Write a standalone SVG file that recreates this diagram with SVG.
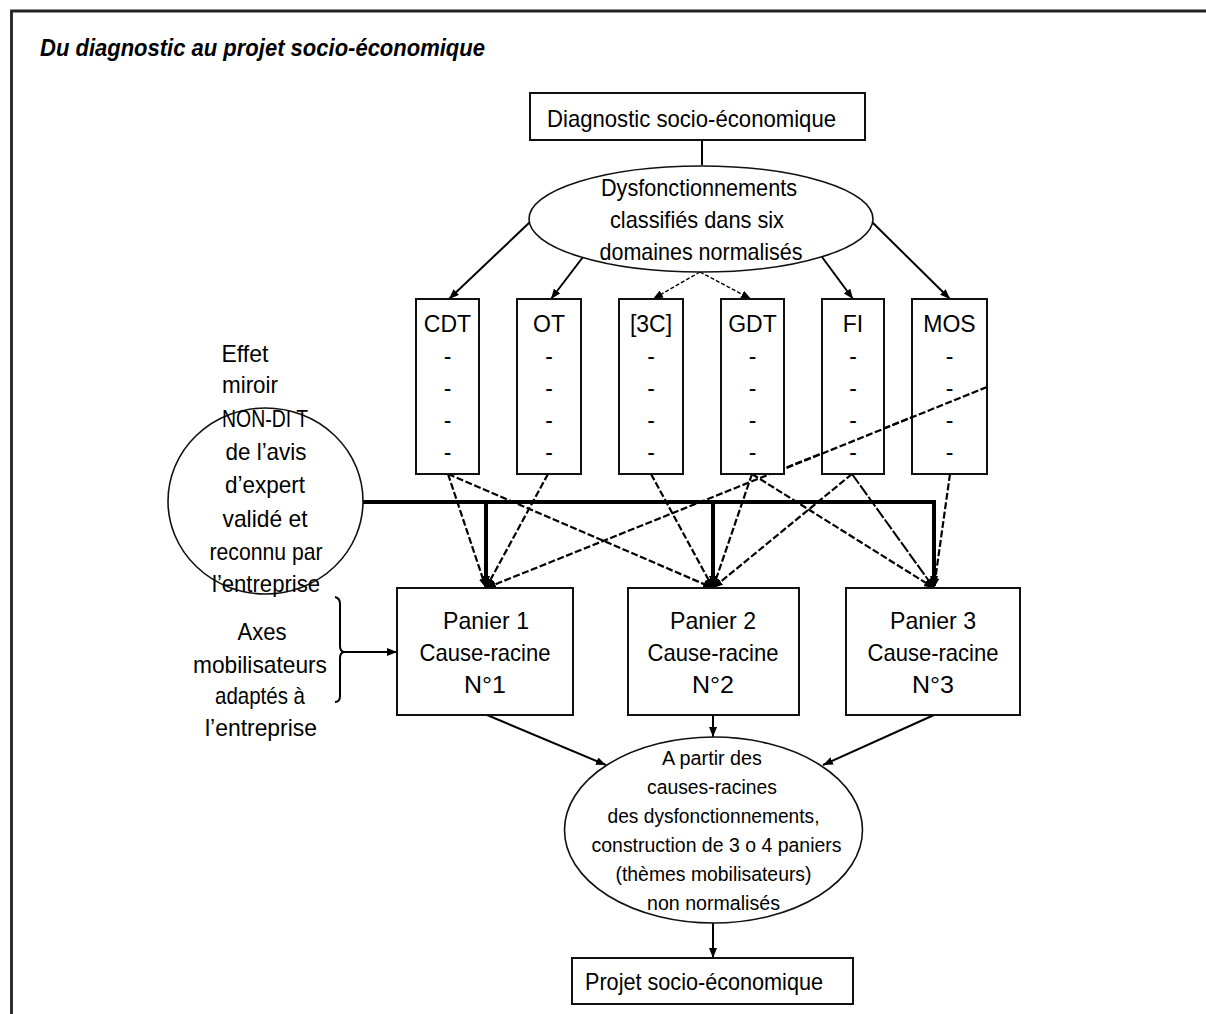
<svg xmlns="http://www.w3.org/2000/svg" width="1206" height="1014" viewBox="0 0 1206 1014">
  <style>
    text { font-family: "Liberation Sans", Arial, sans-serif; fill: #000; }
    .t { font-size: 24px; text-anchor: middle; }
    .s { font-size: 20.5px; text-anchor: middle; }
    .lbl { font-size: 23px; text-anchor: middle; }
    .box { fill: #fff; stroke: #111; stroke-width: 2; }
    .ell { fill: #fff; stroke: #111; stroke-width: 1.6; }
    .ln { fill: none; stroke: #000; stroke-width: 2; }
    .dash { fill: none; stroke: #000; stroke-width: 2.2; stroke-dasharray: 7 2.5; }
    .fine { fill: none; stroke: #000; stroke-width: 1.4; stroke-dasharray: 4 2; }
    .thick { fill: none; stroke: #000; stroke-width: 4; }
  </style>
  <defs>
    <marker id="ah" markerUnits="userSpaceOnUse" markerWidth="10" markerHeight="8" refX="10" refY="4" orient="auto">
      <path d="M0,0 L10,4 L0,8 z" fill="#000"/>
    </marker>
  </defs>

  <!-- outer frame (only left and top edges fall inside the page) -->
  <path d="M11.5,1014 V11 H1206" fill="none" stroke="#222" stroke-width="2.8"/>

  <!-- title -->
  <text x="40" y="56" font-size="24" font-weight="bold" font-style="italic" textLength="445" lengthAdjust="spacingAndGlyphs">Du diagnostic au projet socio-économique</text>

  <!-- connectors -->
  <g id="connectors">
    <line class="ln" x1="702" y1="140" x2="702" y2="165"/>
    <line class="ln" x1="530" y1="222" x2="449" y2="299" marker-end="url(#ah)"/>
    <line class="ln" x1="583" y1="257" x2="551" y2="299" stroke-width="2.6" marker-end="url(#ah)"/>
    <line class="fine" x1="700" y1="272" x2="653" y2="299" marker-end="url(#ah)"/>
    <line class="fine" x1="700" y1="272" x2="751" y2="299" marker-end="url(#ah)"/>
    <line class="ln" x1="822" y1="257" x2="853" y2="299" marker-end="url(#ah)"/>
    <line class="ln" x1="872" y1="222" x2="950" y2="299" marker-end="url(#ah)"/>

    <!-- domains to baskets -->
    <line class="dash" x1="448" y1="474" x2="486" y2="588" marker-end="url(#ah)"/>
    <line class="dash" x1="448" y1="474" x2="713" y2="588" marker-end="url(#ah)"/>
    <line class="dash" x1="548" y1="474" x2="486" y2="588" marker-end="url(#ah)"/>
    <line class="dash" x1="651" y1="474" x2="713" y2="588" marker-end="url(#ah)"/>
    <line class="dash" x1="987" y1="387" x2="486" y2="588" marker-end="url(#ah)"/>
    <line class="dash" x1="752" y1="474" x2="713" y2="588" marker-end="url(#ah)"/>
    <line class="dash" x1="752" y1="474" x2="934" y2="588" marker-end="url(#ah)"/>
    <line class="dash" x1="852" y1="474" x2="713" y2="588" marker-end="url(#ah)"/>
    <line class="ln" x1="852" y1="474" x2="934" y2="588" stroke-dasharray="12 2" marker-end="url(#ah)"/>
    <line class="dash" x1="950" y1="474" x2="934" y2="588" marker-end="url(#ah)"/>

    <!-- mirror effect bar -->
    <path class="thick" d="M363,502 H934 V586" marker-end="url(#ah)"/>
    <line class="thick" x1="486" y1="502" x2="486" y2="586" marker-end="url(#ah)"/>
    <line class="thick" x1="713" y1="502" x2="713" y2="586" marker-end="url(#ah)"/>

    <!-- axes bracket -->
    <path class="ln" stroke-width="1.6" d="M335,597 Q340,598 340,604 V646 Q340,652 345,652 Q340,652 340,658 V696 Q340,702 335,702"/>
    <line class="ln" stroke-width="1.6" x1="345" y1="652" x2="397" y2="652" marker-end="url(#ah)"/>

    <!-- baskets to synthesis -->
    <line class="ln" x1="487" y1="715" x2="606" y2="765" marker-end="url(#ah)"/>
    <line class="ln" x1="713" y1="715" x2="713" y2="737" stroke-width="2.6" marker-end="url(#ah)"/>
    <line class="ln" x1="934" y1="715" x2="823" y2="765" marker-end="url(#ah)"/>
    <line class="ln" x1="713" y1="923" x2="713" y2="958" stroke-width="2.6" marker-end="url(#ah)"/>
  </g>

  <g id="diagnostic">
    <rect class="box" x="530" y="93" width="335" height="47"/>
    <text class="t" x="691.5" y="127" textLength="289" lengthAdjust="spacingAndGlyphs">Diagnostic socio-économique</text>
  </g>

  <g id="dysfonctionnements">
    <ellipse class="ell" cx="701" cy="219" rx="172" ry="53"/>
    <text class="t" x="699" y="196" textLength="196" lengthAdjust="spacingAndGlyphs">Dysfonctionnements</text>
    <text class="t" x="697" y="228" textLength="174" lengthAdjust="spacingAndGlyphs">classifiés dans six</text>
    <text class="t" x="701" y="260" textLength="203" lengthAdjust="spacingAndGlyphs">domaines normalisés</text>
  </g>

  <g id="domain-cdt">
    <rect class="box" x="416" y="299" width="63" height="175"/>
    <text class="lbl" x="447.5" y="332">CDT</text>
    <text class="lbl" x="447.5" y="364">-</text><text class="lbl" x="447.5" y="396">-</text><text class="lbl" x="447.5" y="428">-</text><text class="lbl" x="447.5" y="460">-</text>
  </g>
  <g id="domain-ot">
    <rect class="box" x="517" y="299" width="64" height="175"/>
    <text class="lbl" x="549" y="332">OT</text>
    <text class="lbl" x="549" y="364">-</text><text class="lbl" x="549" y="396">-</text><text class="lbl" x="549" y="428">-</text><text class="lbl" x="549" y="460">-</text>
  </g>
  <g id="domain-3c">
    <rect class="box" x="619" y="299" width="64" height="175"/>
    <text class="lbl" x="651" y="332">[3C]</text>
    <text class="lbl" x="651" y="364">-</text><text class="lbl" x="651" y="396">-</text><text class="lbl" x="651" y="428">-</text><text class="lbl" x="651" y="460">-</text>
  </g>
  <g id="domain-gdt">
    <rect class="box" x="721" y="299" width="63" height="175"/>
    <text class="lbl" x="752.5" y="332">GDT</text>
    <text class="lbl" x="752.5" y="364">-</text><text class="lbl" x="752.5" y="396">-</text><text class="lbl" x="752.5" y="428">-</text><text class="lbl" x="752.5" y="460">-</text>
  </g>
  <g id="domain-fi">
    <rect class="box" x="822" y="299" width="62" height="175"/>
    <text class="lbl" x="853" y="332">FI</text>
    <text class="lbl" x="853" y="364">-</text><text class="lbl" x="853" y="396">-</text><text class="lbl" x="853" y="428">-</text><text class="lbl" x="853" y="460">-</text>
  </g>
  <g id="domain-mos">
    <rect class="box" x="912" y="299" width="75" height="175"/>
    <text class="lbl" x="949.5" y="332">MOS</text>
    <text class="lbl" x="949.5" y="364">-</text><text class="lbl" x="949.5" y="396">-</text><text class="lbl" x="949.5" y="428">-</text><text class="lbl" x="949.5" y="460">-</text>
  </g>
  <!-- the long link from MOS is drawn over the boxes -->
  <line class="dash" x1="987" y1="387" x2="784" y2="469"/>

  <g id="effet-miroir">
    <text class="t" x="245" y="362" textLength="47" lengthAdjust="spacingAndGlyphs">Effet</text>
    <text class="t" x="250" y="393" textLength="56" lengthAdjust="spacingAndGlyphs">miroir</text>
  </g>

  <g id="non-dit">
    <ellipse class="ell" cx="265.5" cy="501" rx="97.5" ry="93" fill="none"/>
    <text class="t" x="265" y="427" textLength="86" lengthAdjust="spacingAndGlyphs">NON-DI T</text>
    <text class="t" x="266" y="460" textLength="81" lengthAdjust="spacingAndGlyphs">de l’avis</text>
    <text class="t" x="265" y="493" textLength="80" lengthAdjust="spacingAndGlyphs">d’expert</text>
    <text class="t" x="265" y="527" textLength="85" lengthAdjust="spacingAndGlyphs">validé et</text>
    <text class="t" x="266" y="560" textLength="113" lengthAdjust="spacingAndGlyphs">reconnu par</text>
    <text class="t" x="266" y="592" textLength="108" lengthAdjust="spacingAndGlyphs">l’entreprise</text>
  </g>

  <g id="axes">
    <text class="t" x="262" y="640" textLength="49" lengthAdjust="spacingAndGlyphs">Axes</text>
    <text class="t" x="260" y="673" textLength="134" lengthAdjust="spacingAndGlyphs">mobilisateurs</text>
    <text class="t" x="260" y="704" textLength="90" lengthAdjust="spacingAndGlyphs">adaptés à</text>
    <text class="t" x="261" y="736" textLength="112" lengthAdjust="spacingAndGlyphs">l’entreprise</text>
  </g>

  <g id="panier-1">
    <rect class="box" x="397" y="588" width="176" height="127"/>
    <text class="t" x="486" y="629" textLength="86" lengthAdjust="spacingAndGlyphs">Panier 1</text>
    <text class="t" x="485" y="661" textLength="131" lengthAdjust="spacingAndGlyphs">Cause-racine</text>
    <text class="t" x="485" y="693" textLength="42" lengthAdjust="spacingAndGlyphs">N°1</text>
  </g>
  <g id="panier-2">
    <rect class="box" x="628" y="588" width="171" height="127"/>
    <text class="t" x="713" y="629" textLength="86" lengthAdjust="spacingAndGlyphs">Panier 2</text>
    <text class="t" x="713" y="661" textLength="131" lengthAdjust="spacingAndGlyphs">Cause-racine</text>
    <text class="t" x="713" y="693" textLength="42" lengthAdjust="spacingAndGlyphs">N°2</text>
  </g>
  <g id="panier-3">
    <rect class="box" x="846" y="588" width="174" height="127"/>
    <text class="t" x="933" y="629" textLength="86" lengthAdjust="spacingAndGlyphs">Panier 3</text>
    <text class="t" x="933" y="661" textLength="131" lengthAdjust="spacingAndGlyphs">Cause-racine</text>
    <text class="t" x="933" y="693" textLength="42" lengthAdjust="spacingAndGlyphs">N°3</text>
  </g>

  <g id="construction-paniers">
    <ellipse class="ell" cx="713.5" cy="830" rx="149" ry="93"/>
    <text class="s" x="712" y="765" textLength="100" lengthAdjust="spacingAndGlyphs">A partir des</text>
    <text class="s" x="712" y="794" textLength="130" lengthAdjust="spacingAndGlyphs">causes-racines</text>
    <text class="s" x="713.5" y="823" textLength="212" lengthAdjust="spacingAndGlyphs">des dysfonctionnements,</text>
    <text class="s" x="716.5" y="852" textLength="250" lengthAdjust="spacingAndGlyphs">construction de 3 o 4 paniers</text>
    <text class="s" x="713.5" y="881" textLength="196" lengthAdjust="spacingAndGlyphs">(thèmes mobilisateurs)</text>
    <text class="s" x="713.5" y="910" textLength="133" lengthAdjust="spacingAndGlyphs">non normalisés</text>
  </g>

  <g id="projet">
    <rect class="box" x="572" y="958" width="281" height="46"/>
    <text class="t" x="585" y="990" style="text-anchor:start" textLength="238" lengthAdjust="spacingAndGlyphs">Projet socio-économique</text>
  </g>
</svg>
